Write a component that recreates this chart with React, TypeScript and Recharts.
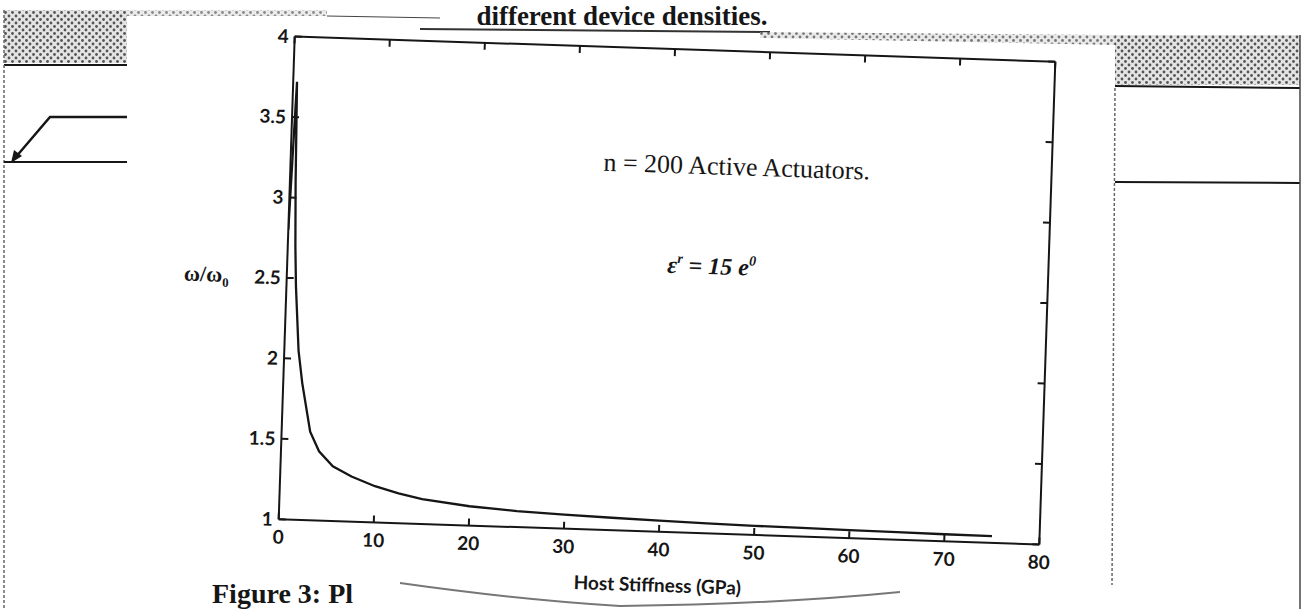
import React from "react";
import {
  LineChart,
  Line,
  XAxis,
  YAxis,
  ReferenceDot,
} from "recharts";

// Host stiffness (GPa) and the frequency ratio
const stiffness = [
  0, 0.4, 0.6, 0.8, 1, 1.5, 2, 3, 4, 5.5, 7.5, 10, 12.5, 15, 20, 25, 30, 35,
  40, 45, 50, 55, 60, 65, 70, 75,
];
const ratio = [
  2.8, 3.72, 3.1, 2.7, 2.45, 2.05, 1.85, 1.55, 1.43, 1.34, 1.28, 1.225, 1.185,
  1.155, 1.12, 1.1, 1.088, 1.078, 1.07, 1.063, 1.057, 1.054, 1.05, 1.047,
  1.044, 1.042,
];

const xTicks = [0, 10, 20, 30, 40, 50, 60, 70, 80];
const yTicks = [1, 1.5, 2, 2.5, 3, 3.5, 4];

const points = stiffness.map((x, i) => ({ x, y: ratio[i] }));

const INK = "#161616";
const tickFont = {
  fontFamily: "Lato, 'Open Sans', sans-serif",
  fontSize: 19,
  fontWeight: 700,
  fill: INK,
};

// tick marks only, no labels (top and right edges of the box)
const NoLabel = () => <g />;

const YLabel = (props: any) => {
  const vb = props.viewBox || { x: 226.5, y: 48, width: 60, height: 483 };
  const x = vb.x + vb.width - 58;
  const y = vb.y + vb.height / 2 + 6;
  return (
    <text
      x={x}
      y={y}
      textAnchor="end"
      fill={INK}
      fontFamily="'Liberation Serif', serif"
      fontWeight={700}
      fontSize={22}
    >
      ω/ω
      <tspan fontSize={13} dy={5}>
        0
      </tspan>
    </text>
  );
};

const NoteN = (p: any) => (
  <text
    x={p.cx}
    y={p.cy + 8}
    textAnchor="middle"
    fill={INK}
    fontFamily="'Liberation Serif', serif"
    fontSize={26}
  >
    n = 200 Active Actuators.
  </text>
);

const NoteEps = (p: any) => (
  <text
    x={p.cx}
    y={p.cy + 8}
    textAnchor="middle"
    fill={INK}
    fontFamily="'Liberation Serif', serif"
    fontStyle="italic"
    fontWeight={700}
    fontSize={24}
  >
    ε
    <tspan fontSize={14} dy={-10}>
      r
    </tspan>
    <tspan fontSize={24} dy={10}>
      {" = 15 e"}
    </tspan>
    <tspan fontSize={14} dy={-10}>
      0
    </tspan>
  </text>
);

function Backdrop() {
  return (
    <svg
      width={1303}
      height={609}
      style={{ position: "absolute", left: 0, top: 0 }}
    >
      <defs>
        <pattern id="dots" width="7" height="7" patternUnits="userSpaceOnUse">
          <rect width="7" height="7" fill="#e4e4e4" />
          <circle cx="2" cy="2" r="1.4" fill="#555" />
          <circle cx="5.5" cy="5.5" r="1.4" fill="#555" />
        </pattern>
      </defs>
      {/* left page remnants */}
      <rect x={4} y={10} width={123} height={53} fill="url(#dots)" />
      <line x1={4} y1={65} x2={127} y2={65} stroke={INK} strokeWidth={2} />
      <line x1={4} y1={10} x2={4} y2={609} stroke="#666" strokeWidth={1.5} strokeDasharray="3 2" />
      <polyline points="127,117 50,117 15,158" fill="none" stroke={INK} strokeWidth={2.5} />
      <polygon points="11,163 14,150 22,156" fill={INK} />
      <line x1={4} y1={162} x2={127} y2={162} stroke={INK} strokeWidth={2} />
      {/* top strip */}
      <rect x={127} y={10} width={200} height={6} fill="url(#dots)" opacity={0.7} />
      <line x1={327} y1={16} x2={440} y2={18} stroke="#444" strokeWidth={1} />
      <line x1={420} y1={29} x2={770} y2={32} stroke="#333" strokeWidth={2} />
      <polygon points="760,32 1115,35 1115,45 760,38" fill="url(#dots)" opacity={0.8} />
      {/* right page remnants */}
      <rect x={1115} y={35} width={185} height={50} fill="url(#dots)" />
      <line x1={1115} y1={86} x2={1300} y2={88} stroke={INK} strokeWidth={2} />
      <line x1={1115} y1={182} x2={1300} y2={183} stroke={INK} strokeWidth={2} />
      <line x1={1115} y1={88} x2={1112} y2={585} stroke="#666" strokeWidth={1.5} strokeDasharray="3 2" />
      <line x1={1300} y1={35} x2={1300} y2={609} stroke="#444" strokeWidth={1.5} />
      {/* scan smear near the bottom */}
      <path d="M 400 583 Q 520 600 620 606 Q 780 604 900 592" fill="none" stroke="#777" strokeWidth={2} />
      <text
        x={622}
        y={25}
        textAnchor="middle"
        fill={INK}
        fontFamily="'Liberation Serif', serif"
        fontWeight={700}
        fontSize={27}
      >
        different device densities.
      </text>
      <text
        x={212}
        y={603}
        fill={INK}
        fontFamily="'Liberation Serif', serif"
        fontWeight={700}
        fontSize={28}
      >
        Figure 3: Pl
      </text>
    </svg>
  );
}

export default function App() {
  return (
    <div
      style={{
        position: "absolute",
        left: 0,
        top: 0,
        width: 1303,
        height: 609,
        overflow: "hidden",
        background: "#fff",
      }}
    >
      <Backdrop />
      <div
        style={{
          position: "absolute",
          left: 0,
          top: 0,
          width: 1303,
          height: 609,
          transform: "rotate(1.9deg)",
          transformOrigin: "667px 290.5px",
        }}
      >
        <LineChart
          width={1303}
          height={609}
          data={points}
          margin={{ top: 48, right: 254.5, bottom: 17, left: 226.5 }}
        >
          <XAxis
            xAxisId="b"
            dataKey="x"
            type="number"
            domain={[0, 80]}
            ticks={xTicks}
            allowDataOverflow
            height={60}
            stroke={INK}
            strokeWidth={2}
            tickSize={-7}
            tickMargin={18}
            tick={tickFont}
            label={{
              value: "Host Stiffness (GPa)",
              position: "insideBottom",
              offset: 0,
              fill: INK,
              fontFamily: "Lato, 'Open Sans', sans-serif",
              fontSize: 19,
              fontWeight: 700,
            }}
          />
          <XAxis
            xAxisId="t"
            dataKey="x"
            type="number"
            orientation="top"
            domain={[0, 80]}
            ticks={xTicks}
            allowDataOverflow
            height={1}
            stroke={INK}
            strokeWidth={2}
            tickSize={-7}
            tick={NoLabel}
          />
          <YAxis
            yAxisId="l"
            dataKey="y"
            type="number"
            domain={[1, 4]}
            ticks={yTicks}
            allowDataOverflow
            width={60}
            stroke={INK}
            strokeWidth={2}
            tickSize={-7}
            tickMargin={13}
            tick={tickFont}
            label={{ content: YLabel }}
          />
          <YAxis
            yAxisId="r"
            dataKey="y"
            type="number"
            orientation="right"
            domain={[1, 4]}
            ticks={yTicks}
            allowDataOverflow
            width={1}
            stroke={INK}
            strokeWidth={2}
            tickSize={-7}
            tick={NoLabel}
          />
          <Line
            xAxisId="t"
            yAxisId="r"
            dataKey="y"
            type="linear"
            stroke="none"
            dot={false}
            activeDot={false}
            isAnimationActive={false}
          />
          <Line
            xAxisId="b"
            yAxisId="l"
            dataKey="y"
            type="linear"
            stroke={INK}
            strokeWidth={2.3}
            dot={false}
            isAnimationActive={false}
          />
          <ReferenceDot
            xAxisId="b"
            yAxisId="l"
            x={46.9}
            y={3.28}
            r={0}
            shape={NoteN}
          />
          <ReferenceDot
            xAxisId="b"
            yAxisId="l"
            x={44.6}
            y={2.66}
            r={0}
            shape={NoteEps}
          />
        </LineChart>
      </div>
    </div>
  );
}
